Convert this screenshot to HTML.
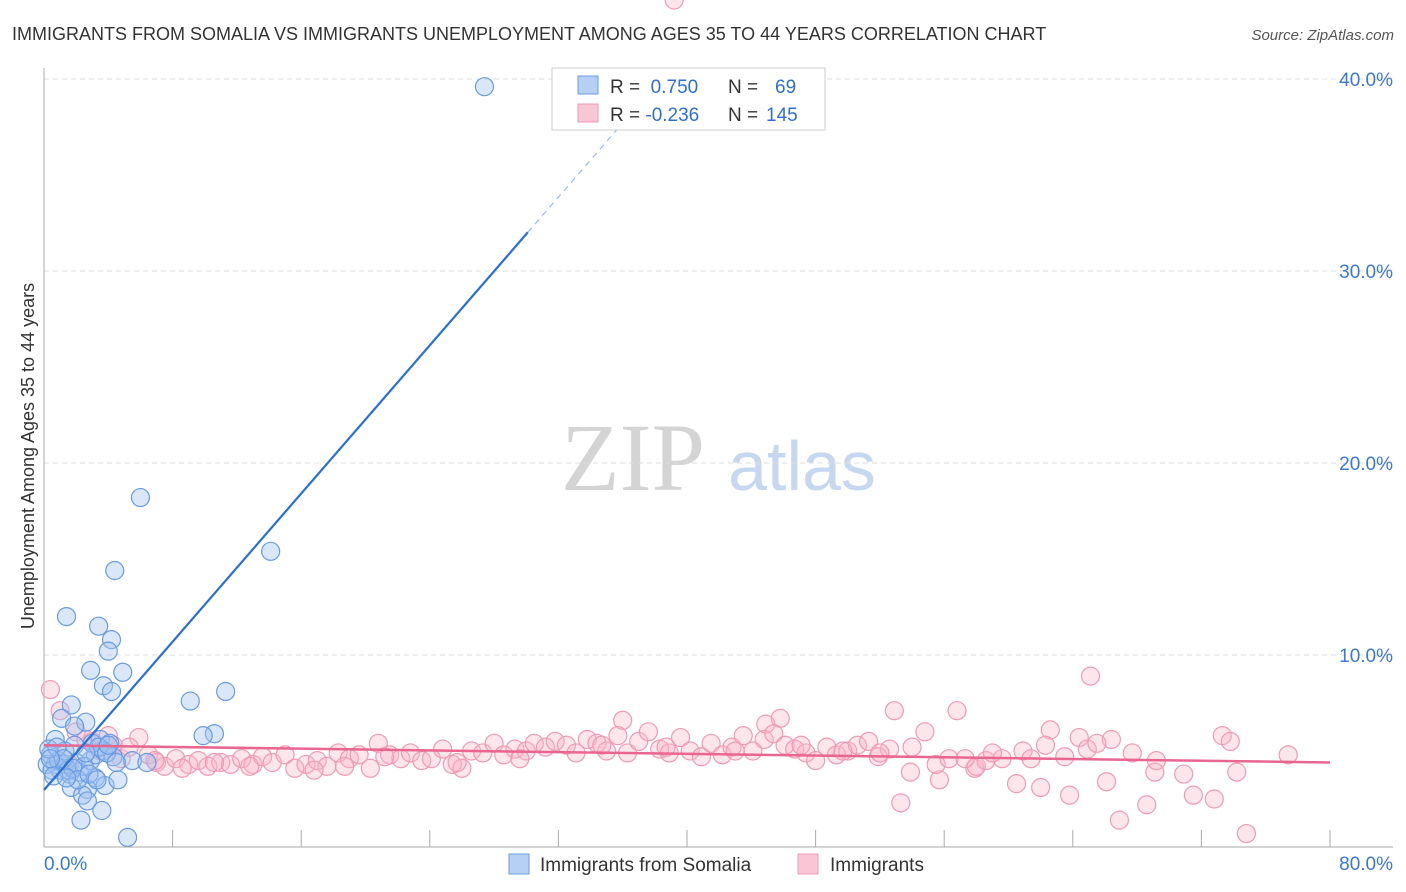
<!DOCTYPE html>
<html><head><meta charset="utf-8"><style>
body{margin:0;background:#fff;font-family:"Liberation Sans",sans-serif}
</style></head><body>
<svg id="c" width="1406" height="892" style="display:block">
<text x="12" y="40" font-size="18" fill="#333">IMMIGRANTS FROM SOMALIA VS IMMIGRANTS UNEMPLOYMENT AMONG AGES 35 TO 44 YEARS CORRELATION CHART</text>
<text x="1394" y="40" font-size="15" fill="#555" font-style="italic" text-anchor="end">Source: ZipAtlas.com</text>
<text transform="translate(34,456) rotate(-90)" font-size="18" fill="#333" text-anchor="middle">Unemployment Among Ages 35 to 44 years</text>
<g><text x="633" y="490" font-size="96" font-family="Liberation Serif,serif" fill="#d4d4d4" text-anchor="middle">ZIP</text><text x="802" y="490" font-size="70" fill="#c5d8f0" text-anchor="middle">atlas</text></g>
<g id="grid"></g><g id="pts"></g><g id="lines"></g>
<g>
<rect x="552" y="68" width="273" height="62" fill="#fff" stroke="#ccc"/>
<rect x="578" y="76" width="20" height="18" fill="#b6d0f5" stroke="#6a9be0"/>
<rect x="578" y="104" width="20" height="18" fill="#f9c6d5" stroke="#f09ab5"/>
<text x="610" y="93" font-size="19" fill="#333">R = <tspan fill="#2f6fd0">&#160;0.750</tspan><tspan x="728">N = </tspan><tspan fill="#2f6fd0" x="775">69</tspan></text>
<text x="610" y="121" font-size="19" fill="#333">R = <tspan fill="#2f6fd0">-0.236</tspan><tspan x="728">N = </tspan><tspan fill="#2f6fd0" x="766">145</tspan></text>
</g>
<g>
<rect x="509" y="854" width="20" height="20" fill="#b6d0f5" stroke="#6a9be0"/>
<text x="540" y="871" font-size="19" fill="#333">Immigrants from Somalia</text>
<rect x="798" y="854" width="20" height="20" fill="#f9c6d5" stroke="#f09ab5"/>
<text x="830" y="871" font-size="19" fill="#333">Immigrants</text>
</g>
</svg>
<script>
const yTicks=[10,20,30,40];
const blueX=[27.4,6.0,14.1,4.4,1.4,3.4,4.2,4.0,2.9,4.9,3.7,4.2,11.3,9.1,1.7,10.6,9.9,1.1,2.6,1.9,3.5,4.1,5.5,6.4,0.7,0.4,0.7,1.0,1.6,2.2,3.2,2.7,3.8,4.6,1.7,2.4,2.7,3.6,2.3,5.2,0.2,0.5,0.9,1.3,1.5,2.0,2.9,3.2,3.7,1.3,1.9,0.3,0.8,1.2,2.5,3.0,3.4,4.3,0.6,1.8,2.1,2.8,3.9,0.4,1.4,2.6,3.3,4.0,4.5];
const blueY=[39.6,18.2,15.4,14.4,12.0,11.5,10.8,10.2,9.2,9.1,8.4,8.1,8.1,7.6,7.4,5.9,5.8,6.7,6.5,6.3,5.6,5.4,4.5,4.4,5.6,4.8,4.3,4.0,3.8,3.9,3.6,3.0,3.2,3.5,3.1,2.7,2.4,1.9,1.4,0.5,4.3,4.0,4.5,4.3,4.0,4.4,4.5,4.8,5.0,5.0,5.3,5.1,5.2,4.6,4.2,5.4,5.2,4.7,3.7,4.1,3.5,3.8,4.9,4.6,3.6,4.9,3.5,5.3,4.4];
const pinkX=[0.4,1.0,5.9,65.1,52.9,56.8,36.0,45.8,44.9,62.6,64.4,73.3,73.8,54.8,53.3,66.9,68.6,74.8,72.8,71.5,74.2,66.1,63.8,62.0,60.5,57.9,53.9,55.7,70.9,69.1,2,3,3.5,4,4.8,5.3,6.5,7,7.5,8.2,9,9.6,10.2,11,11.6,12.3,13,13.6,14.2,15,15.6,16.3,17,17.6,18.3,19,19.6,20.3,20.8,21.5,22.2,22.8,23.5,24.1,24.8,25.4,26,26.6,27.3,28,28.6,29.3,30,30.5,31.2,31.8,32.5,33.1,33.8,34.4,35,35.7,36.3,37,37.6,38.3,38.9,39.6,40.2,40.9,41.5,42.2,42.8,43.5,44.1,44.8,45.4,46.1,46.7,47.4,48,48.7,49.3,50,50.6,51.3,51.9,52.6,54,55.5,56.3,58,59.6,60.9,62.3,63.5,64.9,66.4,67.7,69.2,77.4,58.6,61.4,49.7,47.1,43.0,38.7,34.7,29.6,25.7,21.2,18.7,16.8,12.8,10.6,8.6,6.9,4.3,2.6,1.6,57.3,59.0,65.5,52.0,39.2];
const pinkY=[8.2,7.1,5.7,8.9,7.1,7.1,6.6,6.7,6.4,6.1,5.7,5.8,5.5,6.0,2.3,1.4,2.2,0.7,2.5,2.7,3.9,3.4,2.7,3.1,3.3,4.1,3.9,3.5,3.8,3.9,6.0,5.5,5.0,5.8,4.6,5.2,4.8,4.4,4.2,4.6,4.3,4.5,4.2,4.4,4.3,4.6,4.3,4.7,4.4,4.8,4.1,4.3,4.5,4.2,4.9,4.6,4.8,4.1,5.4,4.8,4.6,4.9,4.5,4.6,5.1,4.3,4.1,5.0,4.9,5.4,4.8,5.1,5.0,5.4,5.2,5.5,5.3,4.9,5.6,5.4,5.0,5.8,4.9,5.5,6.0,5.1,4.9,5.7,5.0,4.7,5.4,4.8,5.2,5.8,5.0,5.6,5.9,5.3,5.1,4.9,4.5,5.2,4.8,5.0,5.3,5.5,4.7,5.1,5.2,4.3,4.6,4.2,4.6,5.0,5.3,4.7,5.1,5.6,4.9,4.5,4.8,4.5,4.6,5.0,5.3,5.0,5.2,5.3,4.6,4.4,4.7,4.2,4.0,4.2,4.4,4.1,4.5,5.3,5.6,4.3,4.6,4.9,5.4,4.9];
const blueFit=[2.97,0.965], pinkFit=[5.3,-0.0112];
const X=v=>44+v*16.075, Y=v=>847-v*19.2;
const NS='http://www.w3.org/2000/svg';
function mk(p,t,a){const e=document.createElementNS(NS,t);for(const k in a)e.setAttribute(k,a[k]);p.appendChild(e);return e;}
const g=document.getElementById('grid');
yTicks.forEach(t=>{
 const l=mk(g,'line',{x1:44,x2:1393,y1:Y(t),y2:Y(t),stroke:'#ddd','stroke-dasharray':'5,4'});
 
 
 const tx=mk(g,'text',{x:1393,y:Y(t)+7,'font-size':19,fill:'#3a78d8','text-anchor':'end'});tx.textContent=t.toFixed(1)+'%';
 
 
});
const ax=mk(g,'line',{x1:44,x2:44,y1:68,y2:847,stroke:'#aaa'});


const bx=mk(g,'line',{x1:44,x2:1393,y1:847,y2:847,stroke:'#aaa'});


for(let i=0;i<=10;i++){const tk=mk(g,'line',{x1:X(i*8),x2:X(i*8),y1:830,y2:847,stroke:'#aaa'});
 
 }
[[0,'0.0%','start',44],[80,'80.0%','end',1393]].forEach(d=>{const t=mk(g,'text',{x:d[3],y:870,'font-size':19,fill:'#3a78d8','text-anchor':d[2]});t.textContent=d[1];
 
 });
const P=document.getElementById('pts');
pinkX.forEach((x,i)=>{const c=mk(P,'circle',{cx:X(x),cy:Y(pinkY[i]),r:9,fill:'rgba(248,180,200,0.35)',stroke:'#f09ab5','stroke-width':1.2});
 
 });
blueX.forEach((x,i)=>{const c=mk(P,'circle',{cx:X(x),cy:Y(blueY[i]),r:9,fill:'rgba(160,196,240,0.4)',stroke:'#6a9be0','stroke-width':1.2});
 
 });
const L=document.getElementById('lines');
const pl=mk(L,'line',{x1:X(0),y1:Y(pinkFit[0]),x2:X(80),y2:Y(pinkFit[0]+pinkFit[1]*80),stroke:'#e8668f','stroke-width':2.5});


const bl=mk(L,'line',{x1:X(0),y1:Y(blueFit[0]),x2:X(30.1),y2:Y(blueFit[0]+blueFit[1]*30.1),stroke:'#2a6fd6','stroke-width':2.2});


const bd=mk(L,'line',{x1:X(30.1),y1:Y(blueFit[0]+blueFit[1]*30.1),x2:X(37.2),y2:Y(blueFit[0]+blueFit[1]*37.2),stroke:'#9bbbe6','stroke-width':1.2,'stroke-dasharray':'6,5'});


</script>
</body></html>
